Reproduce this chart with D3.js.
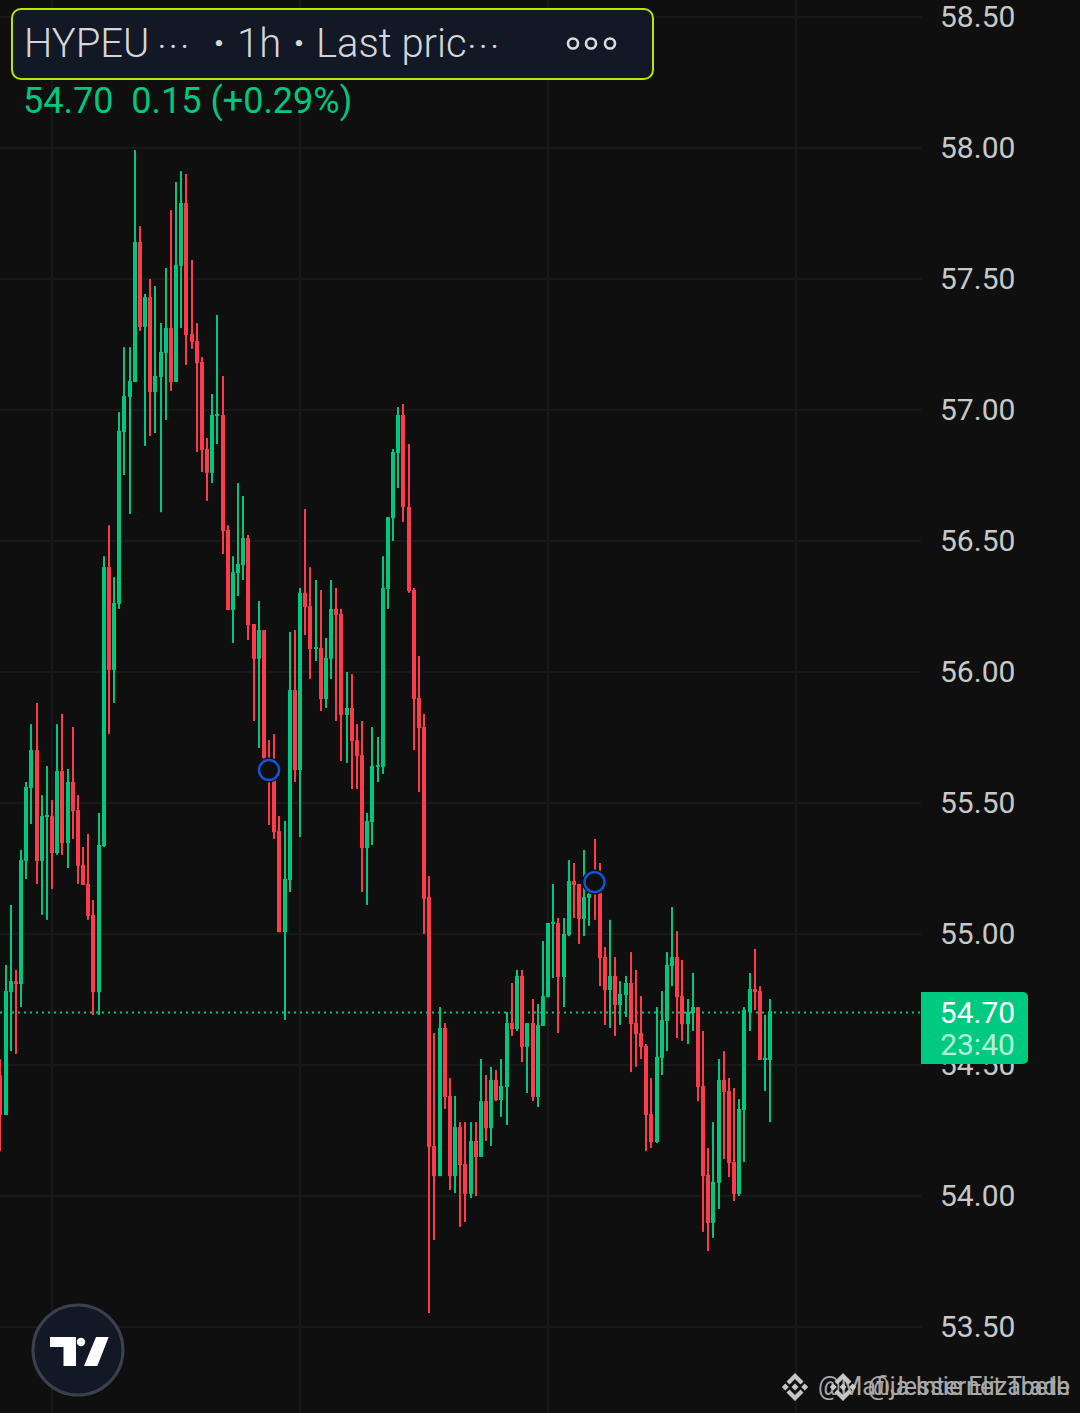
<!DOCTYPE html>
<html><head><meta charset="utf-8">
<script src="https://cdn.jsdelivr.net/npm/d3@7/dist/d3.min.js"></script>
<style>html,body{margin:0;padding:0;background:#0f0f0f}svg{display:block}text{font-family:Roboto,sans-serif}</style>
</head><body><div id="chart"></div>
<script>
const highs=[54.523,54.882,55.111,54.863,55.321,55.580,55.801,55.882,55.530,55.641,
55.511,55.801,55.840,55.630,55.790,55.530,55.332,55.382,55.130,55.462,
56.442,56.560,56.362,56.992,57.240,57.240,57.992,57.702,57.443,57.500,
57.473,57.332,57.542,57.763,57.870,57.912,57.901,57.573,57.332,57.202,
56.893,57.061,57.363,57.130,56.560,56.442,56.721,56.672,56.523,56.183,
56.271,56.160,55.740,55.763,55.450,55.431,56.153,56.160,56.321,56.622,
56.400,56.351,56.313,56.130,56.351,56.321,56.241,56.000,55.992,55.801,
55.813,55.462,55.790,55.752,56.442,56.591,56.851,57.011,57.023,56.870,
56.321,56.061,55.840,55.221,54.622,54.721,54.660,54.450,54.382,54.282,
54.282,54.282,54.282,54.523,54.462,54.493,54.481,54.523,54.702,54.813,
54.863,54.863,54.660,54.752,54.733,54.973,55.042,55.191,55.061,55.061,
55.282,55.271,55.191,55.321,55.187,55.363,55.271,54.950,55.054,54.912,
54.820,54.840,54.931,54.863,54.763,54.580,54.450,54.721,54.782,54.931,
55.103,55.011,54.901,54.752,54.851,54.721,54.630,54.183,54.282,54.523,
54.553,54.450,54.412,54.370,54.721,54.851,54.943,54.801,54.691,54.752];
const lows=[54.171,54.309,54.553,54.542,54.721,55.210,55.420,55.191,55.073,55.054,
55.172,55.302,55.302,55.252,55.363,55.191,55.187,55.054,54.691,54.691,
55.332,55.763,55.882,56.241,56.752,56.603,57.107,57.302,56.863,56.901,
56.912,56.610,56.962,57.073,57.107,57.313,57.172,57.233,56.840,56.763,
56.653,56.721,56.870,56.450,56.237,56.111,56.290,56.351,56.122,55.813,
55.710,55.664,55.416,55.363,55.007,54.672,55.160,55.580,55.370,56.141,
55.973,56.042,55.851,55.863,55.973,55.813,55.660,55.653,55.553,55.553,
55.160,55.111,55.340,55.580,55.611,56.241,56.500,56.702,56.573,56.302,
55.702,55.542,55.000,53.553,53.832,54.076,54.332,54.023,54.011,53.882,
53.901,53.992,54.000,54.149,54.210,54.191,54.362,54.302,54.271,54.611,
54.630,54.511,54.393,54.362,54.340,54.649,54.759,54.832,54.622,54.721,
54.992,55.061,54.962,54.992,55.031,55.054,54.801,54.653,54.641,54.611,
54.653,54.683,54.473,54.493,54.523,54.171,54.183,54.202,54.462,54.553,
54.801,54.603,54.592,54.580,54.630,54.362,53.863,53.790,53.840,53.950,
54.141,54.072,53.981,54.000,54.130,54.630,54.710,54.519,54.401,54.282];
const opens=[54.462,54.309,54.778,54.820,54.809,55.279,55.557,55.702,55.279,55.446,
55.450,55.309,55.622,55.347,55.580,55.473,55.264,55.191,55.073,54.778,
55.336,56.400,56.008,56.260,56.916,57.050,57.107,57.641,57.317,57.431,
57.069,57.126,57.218,57.313,57.107,57.550,57.790,57.290,57.263,57.183,
56.851,56.760,56.977,56.981,56.542,56.237,56.378,56.408,56.511,56.183,
56.050,56.160,55.657,55.588,55.393,55.007,55.206,55.931,55.626,56.302,
56.252,56.088,56.092,55.897,56.050,56.241,56.222,55.836,55.863,55.740,
55.683,55.328,55.427,55.638,55.638,56.317,56.587,56.836,56.981,56.630,
56.313,55.901,55.790,55.141,54.191,54.076,54.641,54.382,54.076,54.263,
54.122,54.008,54.210,54.149,54.362,54.259,54.443,54.366,54.416,54.660,
54.637,54.840,54.569,54.660,54.378,54.649,54.759,55.038,55.042,54.836,
54.996,55.202,55.191,55.057,55.138,55.225,55.157,54.912,54.786,54.840,
54.729,54.767,54.813,54.660,54.622,54.573,54.313,54.206,54.527,54.668,
54.878,54.912,54.763,54.656,54.698,54.721,54.420,54.080,53.897,54.050,
54.443,54.401,54.130,54.008,54.328,54.702,54.790,54.782,54.519,54.519];
const closes=[54.309,54.782,54.820,54.809,55.282,55.561,55.702,55.279,55.450,55.454,
55.309,55.622,55.347,55.580,55.469,55.260,55.187,55.069,54.778,55.340,
56.400,56.008,56.263,56.920,57.053,57.111,57.641,57.317,57.431,57.069,
57.130,57.221,57.313,57.107,57.554,57.790,57.286,57.260,57.179,56.847,
56.760,56.981,56.985,56.538,56.237,56.381,56.412,56.511,56.179,56.050,
56.160,55.672,55.595,55.389,55.007,55.210,55.931,55.626,56.302,56.248,
56.088,56.095,55.897,56.054,56.241,56.218,55.836,55.863,55.737,55.679,
55.328,55.431,55.641,55.645,56.321,56.591,56.840,56.981,56.630,56.309,
55.897,55.786,55.134,54.187,54.076,54.641,54.378,54.076,54.263,54.118,
54.008,54.210,54.149,54.362,54.259,54.443,54.366,54.420,54.660,54.637,
54.840,54.569,54.660,54.378,54.653,54.763,55.042,55.046,54.836,55.000,
55.202,55.187,55.057,55.141,55.153,55.168,54.908,54.786,54.840,54.729,
54.771,54.813,54.656,54.618,54.569,54.309,54.206,54.531,54.672,54.882,
54.912,54.759,54.656,54.702,54.721,54.416,54.076,53.897,54.054,54.443,
54.397,54.126,54.008,54.332,54.710,54.790,54.778,54.519,54.527,54.706];
const priceTicks=[53.5,54,54.5,55,55.5,56,56.5,57,57.5,58,58.5];
const timeGridIndex=[10,58,106,154];
const markerPoints=[{i:52,price:55.626},{i:115,price:55.198}];
const lastPrice=54.70;
const countdown="23:40";
const legendLine="54.70  0.15 (+0.29%)";

const GREEN="#00c77f", RED="#ff3b4b", BG="#0f0f0f", GRID="#191919";
const svg=d3.select("#chart").append("svg").attr("width",1080).attr("height",1413);
svg.append("rect").attr("width",1080).attr("height",1413).attr("fill",BG);
const x=d3.scaleLinear().domain([10,154]).range([52,796]);
const y=d3.scaleLinear().domain([53.5,58.5]).range([1327,17]);
const xp=i=>Math.round(x(i));

// grid
const grid=svg.append("g");
grid.selectAll(".h").data(priceTicks).join("rect").attr("x",0).attr("width",921)
  .attr("y",d=>Math.round(y(d))-1).attr("height",2).attr("fill",GRID);
grid.selectAll(".v").data(timeGridIndex).join("rect").attr("y",0).attr("height",1413)
  .attr("x",d=>xp(d)-1).attr("width",2).attr("fill",GRID);

// axis
const axis=svg.append("g").attr("transform","translate(940,0)")
  .call(d3.axisRight(y).tickValues(priceTicks).tickFormat(d3.format(".2f")).tickSize(0).tickPadding(0));
axis.select(".domain").remove();
axis.selectAll("text").attr("fill","#c8c8c8").attr("font-size",30).style("font-family","Roboto,sans-serif");

// last price line
svg.append("line").attr("x1",0).attr("x2",921).attr("y1",y(lastPrice)).attr("y2",y(lastPrice))
  .attr("stroke",GREEN).attr("stroke-width",2).attr("stroke-dasharray","2 4");

// candles
const idx=d3.range(closes.length);
const col=i=>closes[i]>=opens[i]?GREEN:RED;
const c=svg.append("g");
c.selectAll(".w").data(idx).join("rect").attr("x",i=>xp(i)-1).attr("width",2)
  .attr("y",i=>y(highs[i])).attr("height",i=>y(lows[i])-y(highs[i])).attr("fill",col);
c.selectAll(".b").data(idx).join("rect").attr("x",i=>xp(i)-2).attr("width",4)
  .attr("y",i=>y(Math.max(opens[i],closes[i])))
  .attr("height",i=>Math.max(1,Math.abs(y(opens[i])-y(closes[i])))).attr("fill",col);

// markers
const m=svg.append("g").selectAll("g").data(markerPoints).join("g")
  .attr("transform",d=>`translate(${x(d.i)},${y(d.price)})`);
m.append("circle").attr("r",12.5).attr("fill",BG);
m.append("circle").attr("r",10).attr("fill",BG).attr("stroke","#1254d8").attr("stroke-width",2.4);

// header box
svg.append("rect").attr("x",12).attr("y",9).attr("width",641).attr("height",70).attr("rx",9)
  .attr("fill","#131826").attr("stroke","#b5ea00").attr("stroke-width",2);
const head=svg.append("g").attr("fill","#d6d6d6").attr("font-size",40).attr("font-weight",300);
head.append("text").attr("x",24).attr("y",57).text("HYPEU");
head.append("text").attr("x",158).attr("y",57).attr("font-size",30).attr("font-weight",400).attr("letter-spacing",3.5).text("···");
head.append("text").attr("x",213).attr("y",57).attr("font-weight",700).text("·");
head.append("text").attr("x",237).attr("y",57).text("1h");
head.append("text").attr("x",293).attr("y",57).attr("font-weight",700).text("·");
head.append("text").attr("x",316).attr("y",57).text("Last pric");
head.append("text").attr("x",468).attr("y",57).attr("font-size",30).attr("font-weight",400).attr("letter-spacing",3.5).text("···");
svg.append("g").selectAll("circle").data([573,591,610]).join("circle")
  .attr("cx",d=>d).attr("cy",43.5).attr("r",5).attr("fill","none").attr("stroke","#dcdcdc").attr("stroke-width",2.6);
svg.append("text").attr("x",23).attr("y",113).attr("fill",GREEN).attr("font-size",36).attr("font-weight",400)
  .attr("xml:space","preserve").style("white-space","pre").text(legendLine);

// price label
svg.append("path").attr("d","M921 992H1023a5 5 0 0 1 5 5V1059a5 5 0 0 1 -5 5H921Z").attr("fill","#00c980");
svg.append("text").attr("x",977.5).attr("y",1023).attr("text-anchor","middle").attr("fill","#fff").attr("font-size",30).text(d3.format(".2f")(lastPrice));
svg.append("text").attr("x",977.5).attr("y",1055).attr("text-anchor","middle").attr("fill","#b4f0d9").attr("font-size",30).text(countdown);

// TV logo
svg.append("circle").attr("cx",78).attr("cy",1350).attr("r",45).attr("fill","#131826").attr("stroke","#3b404e").attr("stroke-width",3);
svg.append("path").attr("fill","#fff").attr("d","M50 1337H76V1366H63.5V1347H50ZM96 1337H108.7L97.3 1366H84Z");
svg.append("circle").attr("cx",81).attr("cy",1342).attr("r",4.2).attr("fill","#fff");

// watermark
function binance(cx,cy,op){
  const g=svg.append("g").attr("transform",`translate(${cx},${cy})`).attr("fill","#d0d0d0").attr("opacity",op);
  g.append("path").attr("d","M0 -14L8.5 -5.5L5.5 -2.5L0 -8L-5.5 -2.5L-8.5 -5.5ZM0 14L8.5 5.5L5.5 2.5L0 8L-5.5 2.5L-8.5 5.5ZM0 -3.5L3.5 0L0 3.5L-3.5 0ZM-9.7 -3.5L-6.2 0L-9.7 3.5L-13.2 0ZM9.7 -3.5L13.2 0L9.7 3.5L6.2 0Z");
}
binance(795,1387,.95); binance(843,1387,.95);
const wm=svg.append("g").attr("fill","#cfcfcf").attr("font-size",25).attr("text-anchor","end").attr("opacity",.8)
  .style("font-family","'Noto Sans',sans-serif");
wm.append("text").attr("x",1070).attr("y",1395).text("@Mafija Internet Trade");
wm.append("text").attr("x",1070).attr("y",1395).text("@Jessie Elizabeth");
</script></body></html>
